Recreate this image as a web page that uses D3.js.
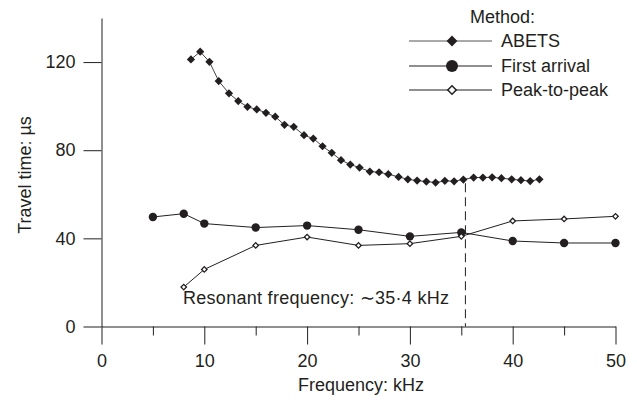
<!DOCTYPE html>
<html>
<head>
<meta charset="utf-8">
<script src="https://cdn.jsdelivr.net/npm/d3@7"></script>
<style>
  html, body { margin: 0; padding: 0; background: #fff; }
  svg { display: block; }
  text { font-family: "Liberation Sans", Arial, sans-serif; fill: #231f20; }
</style>
</head>
<body>
<svg id="chart" width="637" height="407"></svg>
<script>
// ---- data ----
const abetsFreq = [8.7, 9.6, 10.5, 11.4, 12.4, 13.3, 14.2, 15.1, 16.0, 16.9, 17.8, 18.7, 19.7, 20.6, 21.5, 22.4, 23.3, 24.2, 25.1, 26.1, 27.0, 27.9, 28.9, 29.8, 30.7, 31.6, 32.5, 33.4, 34.3, 35.2, 36.2, 37.1, 38.0, 38.9, 39.9, 40.8, 41.7, 42.6];
const abetsTime = [121.2, 124.7, 120.1, 111.4, 105.8, 102.3, 99.7, 98.5, 97.0, 95.2, 91.5, 90.6, 86.8, 85.3, 81.8, 78.8, 75.5, 73.5, 72.1, 70.3, 70.0, 69.1, 67.9, 66.8, 66.2, 65.8, 65.3, 66.1, 65.9, 66.7, 67.6, 67.6, 67.7, 67.3, 66.8, 66.4, 66.0, 66.8];
const firstFreq = [5, 8, 10, 15, 20, 25, 30, 35, 40, 45, 50];
const firstTime = [49.7, 51.2, 46.7, 44.9, 45.8, 43.9, 40.9, 42.7, 38.8, 37.9, 37.9];
const peakFreq = [8, 10, 15, 20, 25, 30, 35, 40, 45, 50];
const peakTime = [17.9, 25.9, 36.8, 40.6, 36.8, 37.6, 40.9, 47.9, 48.8, 50.0];
const xMajorTicks = [0, 10, 20, 30, 40, 50];
const xMinorTicks = [5, 15, 25, 35, 45];
const yTicks = [0, 40, 80, 120];
const resonantFreq = 35.4;
const resonantTop = 65;
const legendLabels = ["ABETS", "First arrival", "Peak-to-peak"];

// ---- layout ----
const ink = "#231f20";
const svg = d3.select("#chart");
const x = d3.scaleLinear().domain([0, 50]).range([101.5, 615.5]);
const y = d3.scaleLinear().domain([0, 140]).range([326.5, 18]);

// axes
const gx = svg.append("g").attr("transform", `translate(0,${y(0)})`)
  .call(d3.axisBottom(x).tickValues(xMajorTicks).tickSize(18).tickPadding(10).tickSizeOuter(0).tickFormat(d3.format("d")));
const gxMinor = svg.append("g").attr("transform", `translate(0,${y(0)})`)
  .call(d3.axisBottom(x).tickValues(xMinorTicks).tickSize(9).tickFormat(""));
gxMinor.select(".domain").remove();
const gy = svg.append("g").attr("transform", `translate(${x(0)},0)`)
  .call(d3.axisLeft(y).tickValues(yTicks).tickSize(18).tickPadding(8).tickSizeOuter(0).tickFormat(d3.format("d")));

[gx, gxMinor, gy].forEach(g => {
  g.selectAll("path, line").attr("stroke", ink).attr("stroke-width", 1);
  g.selectAll("text").attr("font-size", 18).attr("fill", ink)
    .attr("font-family", '"Liberation Sans", Arial, sans-serif');
});

// axis titles
svg.append("text").attr("x", 361).attr("y", 391).attr("text-anchor", "middle")
  .attr("font-size", 18).text("Frequency: kHz");
svg.append("text").attr("transform", "translate(31,175) rotate(-90)")
  .attr("text-anchor", "middle").attr("font-size", 18).text("Travel time: µs");

// resonant frequency line + label
svg.append("line")
  .attr("x1", x(resonantFreq)).attr("x2", x(resonantFreq))
  .attr("y1", y(resonantTop)).attr("y2", y(0))
  .attr("stroke", ink).attr("stroke-width", 1).attr("stroke-dasharray", "9,5");
svg.append("text").attr("x", 183).attr("y", 304).attr("text-anchor", "start")
  .attr("font-size", 18).attr("textLength", 266).attr("lengthAdjust", "spacing")
  .text("Resonant frequency: \u223C35·4 kHz");

// series
const line = d3.line().x(d => x(d[0])).y(d => y(d[1]));
const abets = abetsFreq.map((f, i) => [f, abetsTime[i]]);
const first = firstFreq.map((f, i) => [f, firstTime[i]]);
const peak = peakFreq.map((f, i) => [f, peakTime[i]]);

svg.append("path").datum(abets).attr("d", line).attr("fill", "none").attr("stroke", "#444").attr("stroke-width", 1);
svg.append("path").datum(first).attr("d", line).attr("fill", "none").attr("stroke", ink).attr("stroke-width", 1);
svg.append("path").datum(peak).attr("d", line).attr("fill", "none").attr("stroke", ink).attr("stroke-width", 1);

const sq = s => d3.symbol().type(d3.symbolSquare).size(s)();

svg.append("g").selectAll("path").data(abets).join("path")
  .attr("d", sq(34))
  .attr("transform", d => `translate(${x(d[0])},${y(d[1])}) rotate(45)`)
  .attr("fill", ink);
svg.append("g").selectAll("circle").data(first).join("circle")
  .attr("cx", d => x(d[0])).attr("cy", d => y(d[1])).attr("r", 4.2).attr("fill", ink);
svg.append("g").selectAll("path").data(peak).join("path")
  .attr("d", sq(15))
  .attr("transform", d => `translate(${x(d[0])},${y(d[1])}) rotate(45)`)
  .attr("fill", "#fff").attr("stroke", ink).attr("stroke-width", 1.3);

// legend
const lg = svg.append("g");
lg.append("text").attr("x", 470).attr("y", 23).attr("font-size", 18).text("Method:");
const rowsY = [41, 66, 90];
const baseY = [47, 72, 96];
legendLabels.forEach((lab, i) => {
  lg.append("line").attr("x1", 409).attr("x2", 492).attr("y1", rowsY[i]).attr("y2", rowsY[i])
    .attr("stroke", i === 0 ? "#555" : ink).attr("stroke-width", 1);
  lg.append("text").attr("x", 501).attr("y", baseY[i]).attr("font-size", 18).text(lab);
});
lg.append("path").attr("d", sq(58)).attr("transform", `translate(452,${rowsY[0]}) rotate(45)`).attr("fill", ink);
lg.append("circle").attr("cx", 452).attr("cy", rowsY[1]).attr("r", 6).attr("fill", ink);
lg.append("path").attr("d", sq(36)).attr("transform", `translate(452,${rowsY[2]}) rotate(45)`)
  .attr("fill", "#fff").attr("stroke", ink).attr("stroke-width", 1.5);
</script>
</body>
</html>
